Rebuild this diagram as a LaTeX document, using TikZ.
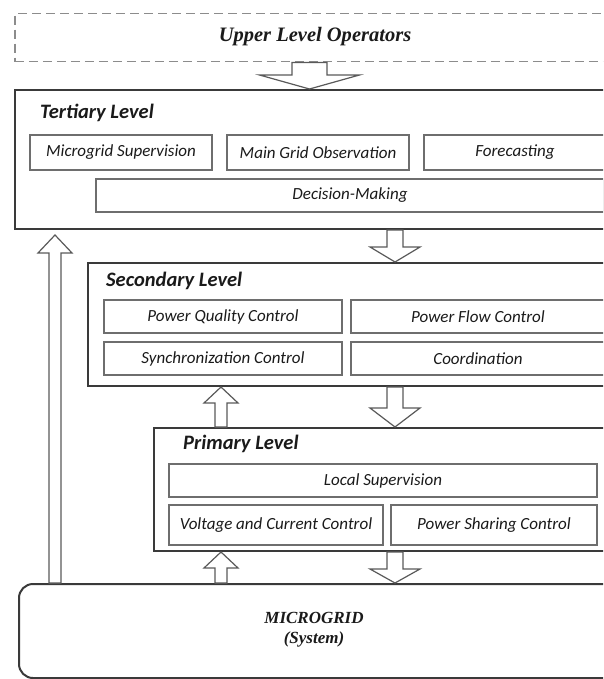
\documentclass[tikz,border=0pt]{standalone}
\usepackage{fontspec}
\setmainfont{Carlito}
\newfontfamily\tnr{Liberation Serif}
\usetikzlibrary{calc}
\definecolor{lvlc}{HTML}{3A3A3A}
\definecolor{subc}{HTML}{6E6E6E}
\definecolor{dashc}{HTML}{8C8C8C}
\definecolor{arrc}{HTML}{5A5A5A}
\definecolor{txtc}{HTML}{1A1A1A}
\tikzset{
  lvl/.style={draw=lvlc, line width=2pt, fill=white, inner sep=0pt, anchor=north west},
  sub/.style={draw=subc, line width=1.3pt, inner sep=0pt, text=txtc, font=\itshape\fontsize{17}{19}\selectfont},
  ttl/.style={anchor=west, inner sep=0pt, text=txtc, font=\bfseries\itshape\fontsize{20.5}{22}\selectfont},
  blk/.style={draw=arrc, line width=1.2pt, fill=white, line join=miter},
  dashbox/.style={draw=dashc, line width=1.5pt, dash pattern=on 9pt off 5pt, inner sep=0pt, anchor=north west},
  sertxt/.style={inner sep=0pt, text=txtc, font=\tnr\bfseries\itshape\fontsize{20.5}{22}\selectfont, align=center}
}
% #1 x, #2 from, #3 to, #4 shaft half width, #5 head half width, #6 head length
\newcommand\blkarrow[6]{%
  \draw[blk] let \p1=(#1,0 |- #2), \p2=(#1,0 |- #3),
    \n1={sign(\y2-(\y1))}, \n2={\y2-\n1*#6pt} in
    ({\x1-#4pt},\y1) -- ({\x1-#4pt},\n2) -- ({\x1-#5pt},\n2) -- (\x1,\y2)
    -- ({\x1+#5pt},\n2) -- ({\x1+#4pt},\n2) -- ({\x1+#4pt},\y1) -- cycle;}
\begin{document}
\begin{tikzpicture}[x=1pt,y=-1pt]
\clip (0,0) rectangle (603,679);
\fill[white] (0,0) rectangle (603,679);
% upper level
\node[dashbox, minimum width=640pt, minimum height=48pt] (upper) at (14,13) {};
\node[sertxt] (uppert) at (315,37) {Upper Level Operators};
% tertiary
\node[lvl, minimum width=640pt, minimum height=139pt] (tert) at (14,89) {};
\node[ttl] (tertt) at (40,113) {Tertiary Level};
\node[sub, minimum width=182pt, minimum height=35pt] (ms) at (121,152.5) {Microgrid Supervision};
\node[sub, minimum width=182pt, minimum height=35pt] (mg) at (318,152.5) {Main Grid Observation};
\node[sub, minimum width=182pt, minimum height=35pt] (fc) at (515,152.5) {Forecasting};
\node[sub, minimum width=508pt, minimum height=33pt] (dm) at (350,195.5) {Decision-Making};
% secondary
\node[lvl, minimum width=560pt, minimum height=123pt] (sec) at (87,262) {};
\node[ttl] (sect) at (106,281) {Secondary Level};
\node[sub, minimum width=238pt, minimum height=33pt] (pq) at (223,316.5) {Power Quality Control};
\node[sub, minimum width=254pt, minimum height=33pt] (pf) at (478,316.5) {Power Flow Control};
\node[sub, minimum width=238pt, minimum height=33pt] (sy) at (223,358.5) {Synchronization Control};
\node[sub, minimum width=254pt, minimum height=33pt] (co) at (478,358.5) {Coordination};
% primary
\node[lvl, minimum width=480pt, minimum height=123pt] (prim) at (153,427) {};
\node[ttl] (primt) at (183,444) {Primary Level};
\node[sub, minimum width=428pt, minimum height=33pt] (ls) at (383,480.5) {Local Supervision};
\node[sub, minimum width=214pt, minimum height=40pt] (vc) at (276,525) {Voltage and Current Control};
\node[sub, minimum width=206pt, minimum height=40pt] (ps) at (494,525) {Power Sharing Control};
% microgrid
\node[lvl, rounded corners=14pt, minimum width=640pt, minimum height=94pt] (micro) at (18,583) {};
\node[sertxt, font=\tnr\bfseries\itshape\fontsize{17}{20}\selectfont] (microt) at (314,630) {MICROGRID\\(System)};
% arrows
\coordinate (u1tip) at ($(tert.south)+(0,5)$);
\blkarrow{309.5}{upper.south}{tert.north}{17.5}{50}{14}
\blkarrow{395}{tert.south}{sec.north}{8}{25}{15}
\blkarrow{395}{sec.south}{prim.north}{8}{25}{19}
\blkarrow{395}{prim.south}{micro.north}{8}{25}{14}
\blkarrow{55}{micro.north}{u1tip}{6}{17}{18}
\blkarrow{221}{prim.north}{sec.south}{6}{17}{16}
\blkarrow{221}{micro.north}{prim.south}{6}{17}{16}
\end{tikzpicture}
\end{document}
